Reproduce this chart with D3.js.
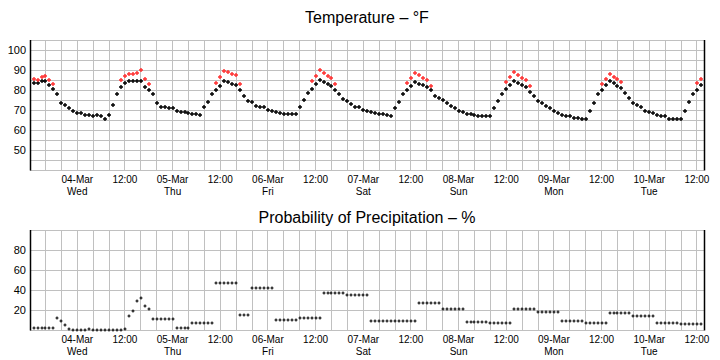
<!DOCTYPE html>
<html><head><meta charset="utf-8">
<script src="https://cdn.jsdelivr.net/npm/d3@7"></script>
<style>
body{margin:0;background:#fff;}
svg{display:block;font-family:"Liberation Sans",Arial,sans-serif;}
</style></head><body>
<svg id="chart" width="720" height="360"></svg>
<script>
// ---------- DATA ----------
const startTime = Date.UTC(2026, 2, 3, 13); // first hourly value: 03-Mar 13:00
const temperature = [
  84, 84, 85, 85, 83, 81, 78, 74, 73, 71,
  70, 69, 69, 68, 68, 67, 68, 67, 66, 68,
  73, 78, 82, 84, 85, 85, 85, 85, 82, 80,
  78, 74, 72, 72, 71, 71, 70, 69.5, 69.5, 69,
  68.5, 68.5, 68, 71.5, 74.5, 78, 80.5, 82.5, 85, 84.5,
  83.5, 83, 80.5, 77.5, 75, 74.5, 72.5, 72, 71.5, 70.5,
  70, 69.5, 69, 68.5, 68.5, 68.5, 68.5, 72, 75.5, 79,
  81, 83.5, 85.5, 84.5, 83.5, 82.5, 80.5, 78.5, 76, 75,
  73.5, 72, 71.5, 70.5, 70, 69.5, 69, 68.5, 68.5, 68,
  67.5, 71, 74.5, 78, 80.5, 82.5, 84.5, 83.5, 83, 82,
  80, 77.5, 76.5, 75.5, 74, 72.5, 71, 70, 69.5, 68.5,
  68.5, 68, 67.5, 67.5, 67, 67, 71, 75, 78.5, 81,
  83, 85, 84, 83, 82, 79.5, 77.5, 75, 74, 72.5,
  71, 70, 69, 68, 67.5, 67, 66.5, 66.5, 66, 66,
  70, 74, 78, 80.5, 83, 85, 84, 82.5, 81.5, 79,
  76.5, 74, 73, 72, 70, 69.5, 69, 68, 67.5, 67,
  66, 66, 66, 66, 70, 74.5, 78.5, 80.5, 83
];
const heatIndex = [
  86, 85.5, 87, 87.5, 85.5, 83.5, null, null, null, null,
  null, null, null, null, null, null, null, null, null, null,
  null, null, 85.5, 87.5, 88.5, 88.5, 89, 90.5, 86, 83.5,
  null, null, null, null, null, null, null, null, null, null,
  null, null, null, null, null, null, 84, 87, 90, 89.5,
  88.5, 88, 83.5, null, null, null, null, null, null, null,
  null, null, null, null, null, null, null, null, null, null,
  85, 87.5, 90.5, 89, 87.5, 86.5, 83.5, null, null, null,
  null, null, null, null, null, null, null, null, null, null,
  null, null, null, null, 84, 86.5, 89, 88, 86.5, 85.5,
  82.5, null, null, null, null, null, null, null, null, null,
  null, null, null, null, null, null, null, null, null, 84.5,
  87, 89.5, 88, 86.5, 85.5, 82.5, null, null, null, null,
  null, null, null, null, null, null, null, null, null, null,
  null, null, null, 83.5, 86, 88.5, 87, 86, 84.5, null,
  null, null, null, null, null, null, null, null, null, null,
  null, null, null, null, null, null, null, 84, 86
];
const pop = [
  3, 3, 3, 3, 3, 3, 13, 10, 5, 2,
  1, 1, 1, 1, 2, 1, 1, 1, 1, 1,
  1, 1, 1, 2, 15, 20, 30, 33, 25, 22,
  12, 12, 12, 12, 12, 12, 3, 3, 3, 3,
  8, 8, 8, 8, 8, 8, 48, 48, 48, 48,
  48, 48, 16, 16, 16, 43, 43, 43, 43, 43,
  43, 11, 11, 11, 11, 11, 11, 13, 13, 13,
  13, 13, 13, 38, 38, 38, 38, 38, 38, 36,
  36, 36, 36, 36, 36, 10, 10, 10, 10, 10,
  10, 10, 10, 10, 10, 10, 10, 28, 28, 28,
  28, 28, 28, 22, 22, 22, 22, 22, 22, 9,
  9, 9, 9, 9, 9, 8, 8, 8, 8, 8,
  8, 22, 22, 22, 22, 22, 22, 19, 19, 19,
  19, 19, 19, 10, 10, 10, 10, 10, 10, 7,
  7, 7, 7, 7, 7, 18, 18, 18, 18, 18,
  18, 15, 15, 15, 15, 15, 15, 7, 7, 7,
  7, 7, 7, 6, 6, 6, 6, 6, 6
];
const dayLabels = ["04-Mar", "05-Mar", "06-Mar", "07-Mar", "08-Mar", "09-Mar", "10-Mar"];
const weekdays = ["Wed", "Thu", "Fri", "Sat", "Sun", "Mon", "Tue"];
const noonLabel = "12:00";
const tempTicks = [50, 60, 70, 80, 90, 100];
const popTicks = [20, 40, 60, 80];
const titles = ["Temperature \u2013 \u00B0F", "Probability of Precipitation \u2013 %"];

// ---------- SCALES ----------
const HOUR = 3600e3;
const svg = d3.select("#chart");
const x = d3.scaleUtc()
  .domain([new Date(Date.UTC(2026, 2, 3, 12, 6)), new Date(Date.UTC(2026, 2, 10, 13, 47))])
  .range([30, 704]);
const yT = d3.scaleLinear().domain([40, 105]).range([170.5, 40.5]);
const yP = d3.scaleLinear().domain([0, 100]).range([330.5, 230.5]);

const gridTimes = d3.utcHour.every(4).range(x.domain()[0], x.domain()[1]);
const labelTimes = d3.utcHour.every(12).range(new Date(Date.UTC(2026, 2, 4)), x.domain()[1]);
const px = v => Math.floor(v) + 0.5;

const times = temperature.map((_, i) => new Date(startTime + i * HOUR));

function panel(y, hGrid, yTicks, title, titleY, labelY1, labelY2) {
  const g = svg.append("g");
  const [bot, top] = y.range();
  g.selectAll(".hg").data(hGrid).join("line")
    .attr("x1", 30).attr("x2", 704)
    .attr("y1", d => px(y(d))).attr("y2", d => px(y(d)))
    .attr("stroke", "#c0c0c0").attr("stroke-width", 1);
  g.selectAll(".vg").data(gridTimes).join("line")
    .attr("x1", d => px(x(d))).attr("x2", d => px(x(d)))
    .attr("y1", top - 0.5).attr("y2", bot)
    .attr("stroke", "#c0c0c0").attr("stroke-width", 1);
  [30, 704].forEach(xx => {
    g.append("line").attr("x1", xx + 0.5).attr("x2", xx + 0.5)
      .attr("y1", top - 0.5).attr("y2", bot)
      .attr("stroke", "#000").attr("stroke-width", 1.5);
  });
  g.selectAll(".yl").data(yTicks).join("text")
    .attr("x", 26).attr("y", d => y(d)).attr("dy", "0.36em")
    .attr("text-anchor", "end").attr("font-size", 11).attr("fill", "#000")
    .text(d => d);
  let day = 0;
  labelTimes.forEach(t => {
    const isDay = t.getUTCHours() === 0;
    const tx = g.append("text").attr("text-anchor", "middle")
      .attr("font-size", 10).attr("fill", "#000")
      .attr("x", x(t)).attr("y", labelY1);
    if (isDay) {
      tx.text(dayLabels[day]);
      g.append("text").attr("text-anchor", "middle").attr("font-size", 10).attr("fill", "#000")
        .attr("x", x(t)).attr("y", labelY2).text(weekdays[day]);
      day++;
    } else {
      tx.text(noonLabel);
    }
  });
  svg.append("text").attr("x", 367).attr("y", titleY).attr("text-anchor", "middle")
    .attr("font-size", 16).attr("fill", "#000").text(title);
  return g;
}

const gT = panel(yT, d3.range(40, 106, 5), tempTicks, titles[0], 23, 183.3, 194.6);
const gP = panel(yP, [0, 20, 40, 60, 80, 100], popTicks, titles[1], 223, 343.2, 354.5);

const crossT = "M-2,0H2M0,-2V2";
const crossP = "M-1.5,0H1.5M0,-1.5V1.5";

gT.selectAll(".t").data(temperature.map((v, i) => [times[i], v])).join("path")
  .attr("transform", d => `translate(${Math.round(x(d[0]))},${Math.round(yT(d[1]))})`)
  .attr("d", crossT).attr("stroke", "#000").attr("stroke-width", 1.4).attr("fill", "none");

gT.selectAll(".h").data(heatIndex.map((v, i) => [times[i], v]).filter(d => d[1] != null)).join("path")
  .attr("transform", d => `translate(${Math.round(x(d[0]))},${Math.round(yT(d[1]))})`)
  .attr("d", crossT).attr("stroke", "#ff3030").attr("stroke-width", 1.4).attr("fill", "none");

gP.selectAll(".p").data(pop.map((v, i) => [times[i], v])).join("path")
  .attr("transform", d => `translate(${Math.round(x(d[0]))},${Math.round(yP(d[1]))})`)
  .attr("d", crossP).attr("stroke", "#000").attr("stroke-width", 1.1).attr("fill", "none");
</script>
</body></html>
